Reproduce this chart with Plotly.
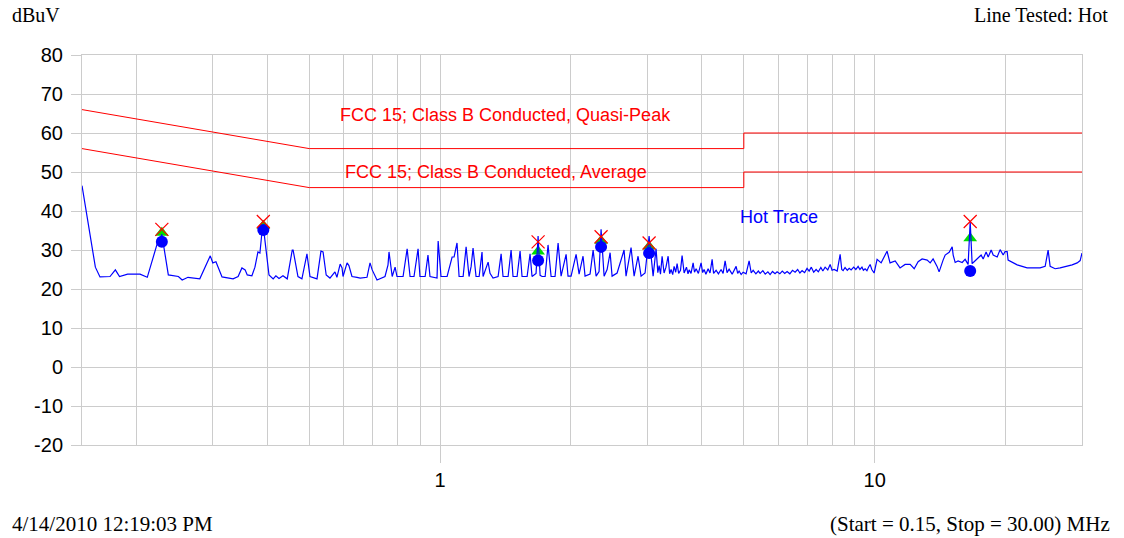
import plotly.graph_objects as go
import math

# ---------------- data ----------------
freq_mhz = [0.150, 0.161, 0.165, 0.174, 0.179, 0.183, 0.191, 0.204, 0.212, 0.217, 0.223, 0.229,
            0.237, 0.250, 0.255, 0.263, 0.280, 0.296, 0.300, 0.305, 0.315, 0.334, 0.343, 0.350,
            0.356, 0.360, 0.369, 0.375, 0.381, 0.385, 0.389, 0.392, 0.404, 0.413, 0.419, 0.426,
            0.435, 0.445, 0.457, 0.459, 0.471, 0.481, 0.494, 0.502, 0.521, 0.532, 0.538, 0.547,
            0.558, 0.573, 0.579, 0.589, 0.595, 0.598, 0.611, 0.617, 0.627, 0.644, 0.655, 0.679,
            0.690, 0.698, 0.709, 0.716, 0.747, 0.759, 0.763, 0.776, 0.788, 0.796, 0.822, 0.840,
            0.853, 0.871, 0.890, 0.899, 0.924, 0.938, 0.948, 0.984, 0.990, 1.005, 1.038, 1.066,
            1.077, 1.094, 1.106, 1.130, 1.148, 1.166, 1.179, 1.191, 1.210, 1.230, 1.249, 1.256,
            1.290, 1.303, 1.324, 1.360, 1.382, 1.396, 1.434, 1.457, 1.472, 1.504, 1.528, 1.544,
            1.586, 1.611, 1.628, 1.663, 1.681, 1.699, 1.717, 1.745, 1.772, 1.801, 1.839, 1.869,
            1.899, 1.950, 1.970, 2.002, 2.056, 2.089, 2.133, 2.156, 2.214, 2.250, 2.286, 2.322,
            2.347, 2.385, 2.423, 2.462, 2.488, 2.555, 2.651, 2.679, 2.751, 2.796, 2.855, 2.901,
            2.963, 3.027,
            3.092, 3.141, 3.170, 3.192, 3.215, 3.243, 3.277, 3.310, 3.348, 3.375, 3.401, 3.430,
            3.456, 3.485, 3.511, 3.540, 3.575, 3.605, 3.644, 3.690, 3.720, 3.742, 3.780, 3.822,
            3.850, 3.883, 3.930, 3.987, 4.020, 4.051, 4.090, 4.138, 4.180, 4.227, 4.260, 4.317,
            4.370, 4.433, 4.480, 4.528, 4.575, 4.625, 4.700, 4.750, 4.800, 4.840, 4.877, 4.930,
            4.981, 5.060, 5.142, 5.200, 5.253, 5.330, 5.400, 5.451, 5.530, 5.600, 5.680, 5.747,
            5.820, 5.900, 5.964, 6.050, 6.130, 6.210, 6.289, 6.380, 6.470, 6.561, 6.650, 6.730,
            6.809, 6.900, 6.990, 7.067, 7.150, 7.240, 7.334, 7.420, 7.520, 7.600, 7.692, 7.800,
            7.899, 7.980, 8.068, 8.200, 8.329, 8.400, 8.462, 8.550, 8.650, 8.740, 8.828, 8.950,
            9.050, 9.161, 9.250, 9.350, 9.420, 9.507, 9.600, 9.680, 9.763, 9.850, 9.972,
            10.13, 10.35, 10.68, 10.85, 11.15, 11.44, 11.75, 12.07, 12.33, 12.59, 12.86, 13.21,
            13.42, 13.63, 13.92, 14.07, 14.37, 14.53, 14.84, 15.08, 15.16, 15.32, 15.56, 15.90,
            16.15, 16.41, 16.59, 16.76, 16.94, 17.21, 17.58, 17.77, 18.05, 18.25, 18.54, 18.74,
            19.14, 19.44, 19.76, 19.96, 20.18, 20.28, 20.72, 21.28, 21.85, 22.43, 23.16, 24.03,
            24.68, 25.07, 25.34, 26.02, 26.72, 27.73, 28.47, 29.24, 29.71, 30.00]

level_dbuv = [46.5, 25.6, 23.1, 23.2, 24.9, 23.2, 23.8, 23.8, 23.0, 26.7, 31.3, 34.0,
              23.6, 23.2, 22.3, 23.0, 22.6, 28.5, 26.7, 27.0, 23.1, 22.6, 23.2, 25.4,
              24.9, 23.6, 23.4, 25.6, 29.5, 29.2, 34.3, 36.0, 23.6, 22.6, 23.4, 22.7,
              23.4, 22.6, 30.0, 30.0, 23.2, 22.6, 29.0, 23.2, 22.6, 29.7, 29.5, 23.6,
              22.8, 24.4, 23.0, 26.4, 25.4, 23.2, 26.7, 26.0, 23.2, 23.0, 22.8, 23.0,
              26.7, 24.9, 23.2, 22.3, 23.2, 26.2, 29.5, 23.2, 25.6, 23.2, 23.2, 30.3,
              23.2, 23.2, 30.3, 23.2, 23.2, 28.7, 23.2, 22.8, 32.3, 23.2, 23.2, 28.2,
              28.2, 31.8, 23.2, 23.2, 30.8, 23.2, 25.8, 30.5, 23.2, 23.2, 29.5, 23.2,
              26.9, 24.0, 22.8, 23.2, 29.0, 23.2, 23.2, 30.0, 23.2, 23.2, 29.7, 23.2,
              23.2, 29.0, 23.2, 24.0, 33.6, 23.5, 23.2, 23.2, 31.3, 23.2, 23.2, 31.8,
              23.3, 28.9, 23.3, 23.3, 28.9, 23.8, 28.4, 23.3, 23.8, 30.0, 23.3, 24.5,
              35.3, 23.3, 25.0, 29.3, 23.3, 24.1, 30.0, 23.3, 30.6, 23.3, 28.4, 23.3,
              24.1, 33.6,
              23.3, 30.3, 24.2, 26.0, 23.8, 28.4, 24.1, 25.6, 28.4, 23.9, 25.0, 23.7,
              25.8, 24.3, 26.5, 24.0, 24.8, 28.6, 24.1, 25.6, 23.9, 24.9, 24.0, 26.7,
              24.3, 25.2, 24.0, 26.7, 24.2, 25.0, 23.8, 25.2, 24.1, 27.6, 24.0, 24.8,
              23.9, 25.0, 24.0, 27.2, 24.2, 25.1, 23.8, 24.9, 25.8, 24.0, 24.6, 23.7,
              24.3, 23.9, 27.2, 24.1, 24.8, 23.9, 24.6, 24.0, 24.7, 23.8, 24.4, 23.7,
              24.5, 23.9, 24.4, 23.9, 24.6, 24.0, 24.5, 23.9, 24.8, 24.3, 25.0, 24.1,
              24.7, 24.2, 25.3, 24.6, 25.6, 24.3, 25.0, 24.4, 25.5, 24.6, 25.6, 24.9,
              26.3, 24.8, 25.0, 24.6, 28.9, 25.0, 24.7, 25.5, 24.8, 25.3, 24.9, 25.6,
              25.0, 25.8, 25.0, 25.6, 24.8, 25.2, 24.7, 25.6, 26.3, 25.0, 24.1,
              27.6, 26.7, 29.7, 26.7, 27.2, 25.4, 26.3, 26.3, 25.2, 27.0, 27.7, 27.4,
              26.7, 27.7, 25.8, 24.4, 27.4, 28.7, 29.4, 30.8, 28.7, 26.8, 27.2, 26.8,
              27.6, 26.3, 37.3, 26.5, 27.0, 27.7, 28.7, 27.7, 29.5, 28.2, 30.0, 28.7,
              28.2, 30.1, 28.7, 29.6, 29.6, 27.4, 26.8, 26.2, 25.8, 25.4, 25.4, 25.4,
              25.8, 30.0, 25.8, 25.2, 25.4, 25.8, 26.2, 26.7, 27.3, 29.2]

# measured emissions (peak / quasi-peak / average detectors)
marker_freq = [0.229, 0.392, 1.681, 2.347, 3.027, 16.59]
marker_peak = [35.3, 37.3, 32.1, 33.4, 31.8, 37.3]
marker_qp = [34.4, 36.2, 29.6, 32.4, 30.9, 33.0]
marker_avg = [32.1, 35.1, 27.3, 30.8, 29.2, 24.6]

# FCC 15 Class B conducted limits
limit_freq = [0.15, 0.5, 5.0, 5.0, 30.0]
limit_qp = [66, 56, 56, 60, 60]
limit_avg = [56, 46, 46, 50, 50]

x_major_ticks = [1, 10]
x_major_text = ["1", "10"]
x_minor_grid = [0.2, 0.3, 0.4, 0.5, 0.6, 0.7, 0.8, 0.9, 2, 3, 4, 5, 6, 7, 8, 9, 20, 30]
y_ticks = [80, 70, 60, 50, 40, 30, 20, 10, 0, -10, -20]
y_tick_text = ["80", "70", "60", "50", "40", "30", "20", "10", "0", "-10", "-20"]

# ---------------- figure ----------------
GRID = "#cccccc"
SANS = "Liberation Sans, Arial, sans-serif"
SERIF = "Liberation Serif, Times New Roman, serif"

fig = go.Figure()

fig.add_trace(go.Scatter(x=limit_freq, y=limit_qp, mode="lines",
                         line=dict(color="#ff0000", width=1), hoverinfo="skip"))
fig.add_trace(go.Scatter(x=limit_freq, y=limit_avg, mode="lines",
                         line=dict(color="#ff0000", width=1), hoverinfo="skip"))

fig.add_trace(go.Scatter(x=marker_freq, y=marker_qp, mode="markers",
                         marker=dict(symbol="triangle-up", size=12, color="#00dd00")))
fig.add_trace(go.Scatter(x=marker_freq, y=marker_avg, mode="markers",
                         marker=dict(symbol="circle", size=12, color="#0000ff")))

fig.add_trace(go.Scatter(x=freq_mhz, y=level_dbuv, mode="lines",
                         line=dict(color="#0000ff", width=1.2)))

fig.add_trace(go.Scatter(x=marker_freq, y=marker_peak, mode="markers",
                         marker=dict(symbol="x-thin-open", size=13, color="#ff0000",
                                     line=dict(color="#ff0000", width=1.2))))

fig.update_layout(
    width=1124, height=538,
    margin=dict(l=82, r=42, t=55, b=93),
    paper_bgcolor="white", plot_bgcolor="white",
    showlegend=False,
    font=dict(family=SANS, color="black"),
)

fig.update_xaxes(
    type="log",
    range=[math.log10(0.15), math.log10(30)],
    tickmode="array", tickvals=x_major_ticks, ticktext=x_major_text,
    ticks="outside", ticklen=17, tickcolor=GRID, tickwidth=1,
    ticklabelstandoff=0,
    tickfont=dict(family=SANS, size=20, color="black"),
    showgrid=True, gridcolor=GRID, gridwidth=1,
    minor=dict(tickmode="array", tickvals=x_minor_grid, showgrid=True,
               gridcolor=GRID, gridwidth=1, ticks=""),
    showline=True, linecolor=GRID, linewidth=1, mirror=True,
    zeroline=False,
)

fig.update_yaxes(
    range=[-20, 80], tickmode="array", tickvals=y_ticks, ticktext=y_tick_text,
    ticks="outside", ticklen=10, tickcolor=GRID, tickwidth=1,
    ticklabelstandoff=4,
    tickfont=dict(family=SANS, size=20, color="black"),
    showgrid=True, gridcolor=GRID, gridwidth=1,
    showline=True, linecolor=GRID, linewidth=1, mirror=True,
    zeroline=False,
)

# text labels
fig.add_annotation(x=math.log10(1.411), y=64.6, xref="x", yref="y",
                   text="FCC 15; Class B Conducted, Quasi-Peak", showarrow=False,
                   font=dict(family=SANS, size=18, color="#ff0000"))
fig.add_annotation(x=math.log10(1.342), y=50.0, xref="x", yref="y",
                   text="FCC 15; Class B Conducted, Average", showarrow=False,
                   font=dict(family=SANS, size=18, color="#ff0000"))
fig.add_annotation(x=math.log10(6.03), y=38.5, xref="x", yref="y",
                   text="Hot Trace", showarrow=False,
                   font=dict(family=SANS, size=18, color="#0000ff"))

fig.add_annotation(x=-0.072, y=1.1026, xref="paper", yref="paper",
                   xanchor="left", yanchor="middle", text="dBuV", showarrow=False,
                   font=dict(family=SERIF, size=20, color="black"))
fig.add_annotation(x=1.028, y=1.1026, xref="paper", yref="paper",
                   xanchor="right", yanchor="middle", text="Line Tested: Hot", showarrow=False,
                   font=dict(family=SERIF, size=20, color="black"))
fig.add_annotation(x=-0.072, y=-0.2026, xref="paper", yref="paper",
                   xanchor="left", yanchor="middle", text="4/14/2010 12:19:03 PM", showarrow=False,
                   font=dict(family=SERIF, size=21, color="black"))
fig.add_annotation(x=1.030, y=-0.2026, xref="paper", yref="paper",
                   xanchor="right", yanchor="middle", text="(Start = 0.15, Stop = 30.00) MHz",
                   showarrow=False, font=dict(family=SERIF, size=21, color="black"))

# remove the default page margin so the figure fills the window exactly
fig.write_html("out.html",
               config={"displayModeBar": False},
               post_script="document.body.style.margin='0';document.body.style.padding='0';")
